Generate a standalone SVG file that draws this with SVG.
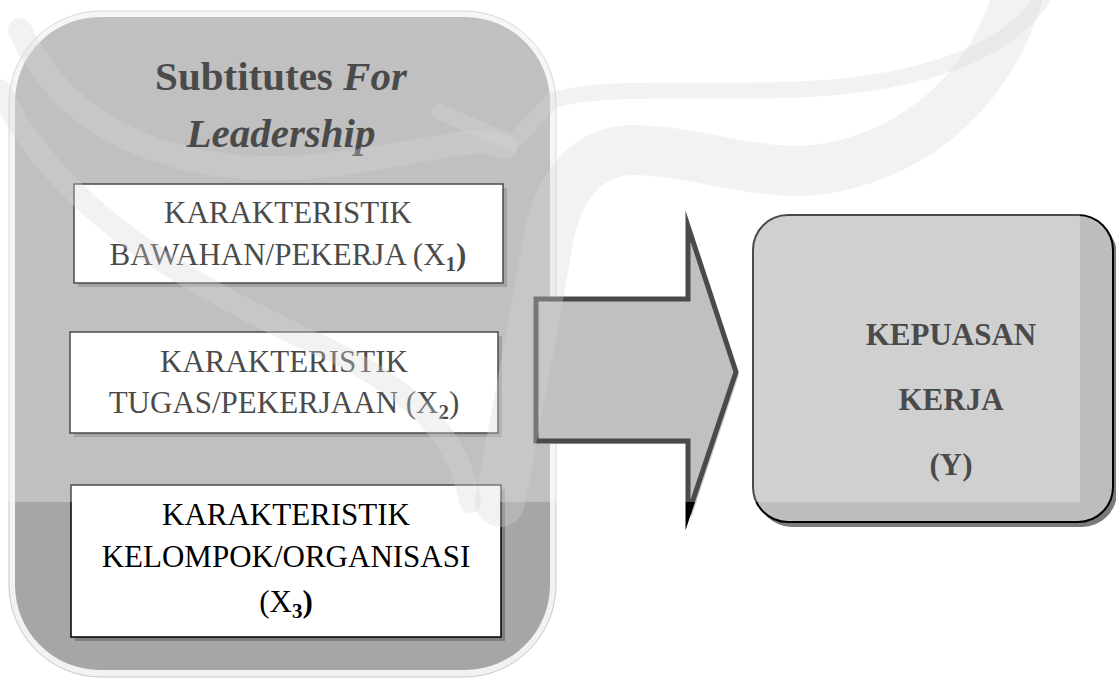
<svg xmlns="http://www.w3.org/2000/svg" width="1116" height="678" viewBox="0 0 1116 678">
<style>
.t{font-family:"Liberation Serif","Times New Roman",serif;fill:#000;text-anchor:middle}
.bx{font-size:31px}
.bd{font-weight:bold}
.it{font-style:italic}
.inner{fill:#fff;stroke:#000;stroke-width:1.5}
.shd{fill:#7f7f7f}
.band{fill:none;stroke:#d6d6d6;stroke-opacity:0.32;stroke-linecap:round}
</style>
<rect width="1116" height="678" fill="#fff"/>
<g id="group-substitutes">
<rect x="9" y="11" width="547" height="666" rx="92" fill="#f2f2f2" stroke="#c9c9c9" stroke-width="1"/>
<rect x="15" y="17" width="535" height="653" rx="85" fill="#a6a6a6"/>
<text class="t bd" font-size="41" x="281" y="90">Subtitutes <tspan class="it">For</tspan></text>
<text class="t bd it" font-size="41" x="281" y="147">Leadership</text>
</g>
<g id="node-x1">
<rect class="shd" x="78" y="188" width="429" height="99"/>
<rect class="inner" x="74" y="184" width="429" height="99"/>
<text class="t bx" x="288" y="223">KARAKTERISTIK</text>
<text class="t bx" x="288" y="265">BAWAHAN/PEKERJA (X<tspan class="bd" font-size="21" dy="6">1</tspan><tspan class="bd" dy="-6">)</tspan></text>
</g>
<g id="node-x2">
<rect class="shd" x="74" y="336" width="428" height="101"/>
<rect class="inner" x="70" y="332" width="428" height="101"/>
<text class="t bx" x="284" y="372">KARAKTERISTIK</text>
<text class="t bx" x="284" y="413">TUGAS/PEKERJAAN (X<tspan class="bd" font-size="21" dy="6">2</tspan><tspan dy="-6">)</tspan></text>
</g>
<g id="node-x3">
<rect class="shd" x="75" y="489" width="430" height="152"/>
<rect class="inner" x="71" y="485" width="430" height="152"/>
<text class="t bx" x="286" y="525">KARAKTERISTIK</text>
<text class="t bx" x="286" y="567">KELOMPOK/ORGANISASI</text>
<text class="t bx" x="286" y="612">(X<tspan class="bd" font-size="21" dy="6">3</tspan><tspan class="bd" dy="-6">)</tspan></text>
</g>
<g id="connectors">
<path d="M539,302 H691 V229 L739,375 L691,518 V444 H539 Z" fill="#bbbbbb"/>
<path d="M536,299 H688 V226 L736,372 L688,515 V441 H536 Z" fill="#a6a6a6" stroke="#000" stroke-width="5" stroke-miterlimit="12"/>
</g>
<g id="node-y">
<rect x="757" y="220" width="360" height="307" rx="35" fill="#7a7a7a"/>
<rect x="753" y="215" width="360" height="307" rx="35" fill="#bdbdbd" stroke="#000" stroke-width="2"/>
<text class="t bx bd" x="951" y="345">KEPUASAN</text>
<text class="t bx bd" x="951" y="410">KERJA</text>
<text class="t bx bd" x="951" y="475">(Y)</text>
</g>
<g id="watermark">
<rect x="0" y="0" width="1080" height="502" fill="#fff" fill-opacity="0.29"/>
<path class="band" stroke-width="16" d="M1045,-5 C1005,60 900,88 780,90 C680,92 600,86 553,100 L512,143 L440,112"/>
<path class="band" stroke-width="50" d="M1020,-10 C990,90 920,150 830,168 C760,180 700,150 630,150 C590,152 560,180 548,240 C535,320 515,420 500,502"/>
<path class="band" stroke-width="24" d="M20,30 C70,140 190,178 320,166 C420,156 470,132 505,147"/>
<path class="band" stroke-width="22" d="M0,90 C60,220 220,300 330,350 C420,395 460,440 470,502"/>
</g>
</svg>
